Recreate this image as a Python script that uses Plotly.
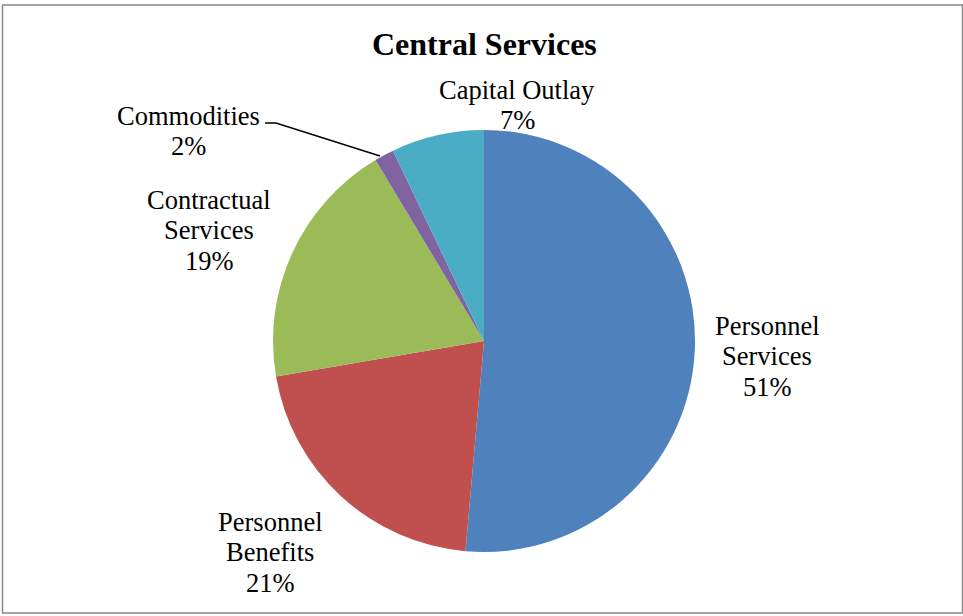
import plotly.graph_objects as go

categories = ["Personnel Services", "Personnel Benefits", "Contractual Services", "Commodities", "Capital Outlay"]
values = [51.4, 20.9, 19.1, 1.5, 7.1]
label_lines = [["Personnel", "Services", "51%"], ["Personnel", "Benefits", "21%"],
               ["Contractual", "Services", "19%"], ["Commodities", "2%"], ["Capital Outlay", "7%"]]
colors = ["#4F81BD", "#C0504D", "#9BBB59", "#8064A2", "#4BACC6"]

W, H = 963, 616
cx, cy, r = 484, 341, 211

# label centers in pixels (layout positions)
label_pos = [(767, 356), (270, 552), (209, 230), (188, 131), (517, 105)]
line_gap = 30.5

fig = go.Figure(go.Pie(
    labels=categories, values=values, sort=False, direction="clockwise", rotation=0,
    marker=dict(colors=colors, line=dict(width=0)),
    textinfo="none", hoverinfo="label+percent", showlegend=False,
    domain=dict(x=[(cx - r) / W, (cx + r) / W], y=[(H - cy - r) / H, (H - cy + r) / H]),
))

serif = "Liberation Serif"
font = dict(family=serif, size=26.5, color="black")
anns = []
for (px, py), lines in zip(label_pos, label_lines):
    n = len(lines)
    for i, t in enumerate(lines):
        ly = py + (i - (n - 1) / 2) * line_gap
        anns.append(dict(x=px / W, y=1 - ly / H, xref="paper", yref="paper", text=t, showarrow=False,
                         font=font, align="center", xanchor="center", yanchor="middle"))
anns.append(dict(x=484 / W, y=1 - 44 / H, xref="paper", yref="paper", text="<b>Central Services</b>",
                 showarrow=False, font=dict(family=serif, size=32, color="black"),
                 xanchor="center", yanchor="middle"))

shapes = [
    dict(type="rect", xref="paper", yref="paper", x0=2.5 / W, x1=962.5 / W, y0=1 - 613 / H, y1=1 - 5 / H,
         line=dict(color="#888888", width=1.5), fillcolor="rgba(0,0,0,0)"),
    dict(type="path", xref="paper", yref="paper",
         path=f"M {265/W},{1-123/H} L {276/W},{1-123/H} L {380/W},{1-156/H}",
         line=dict(color="black", width=1.5)),
]

fig.update_layout(width=W, height=H, margin=dict(l=0, r=0, t=0, b=0),
                  paper_bgcolor="white", plot_bgcolor="white",
                  annotations=anns, shapes=shapes)
fig.write_html("out.html")
